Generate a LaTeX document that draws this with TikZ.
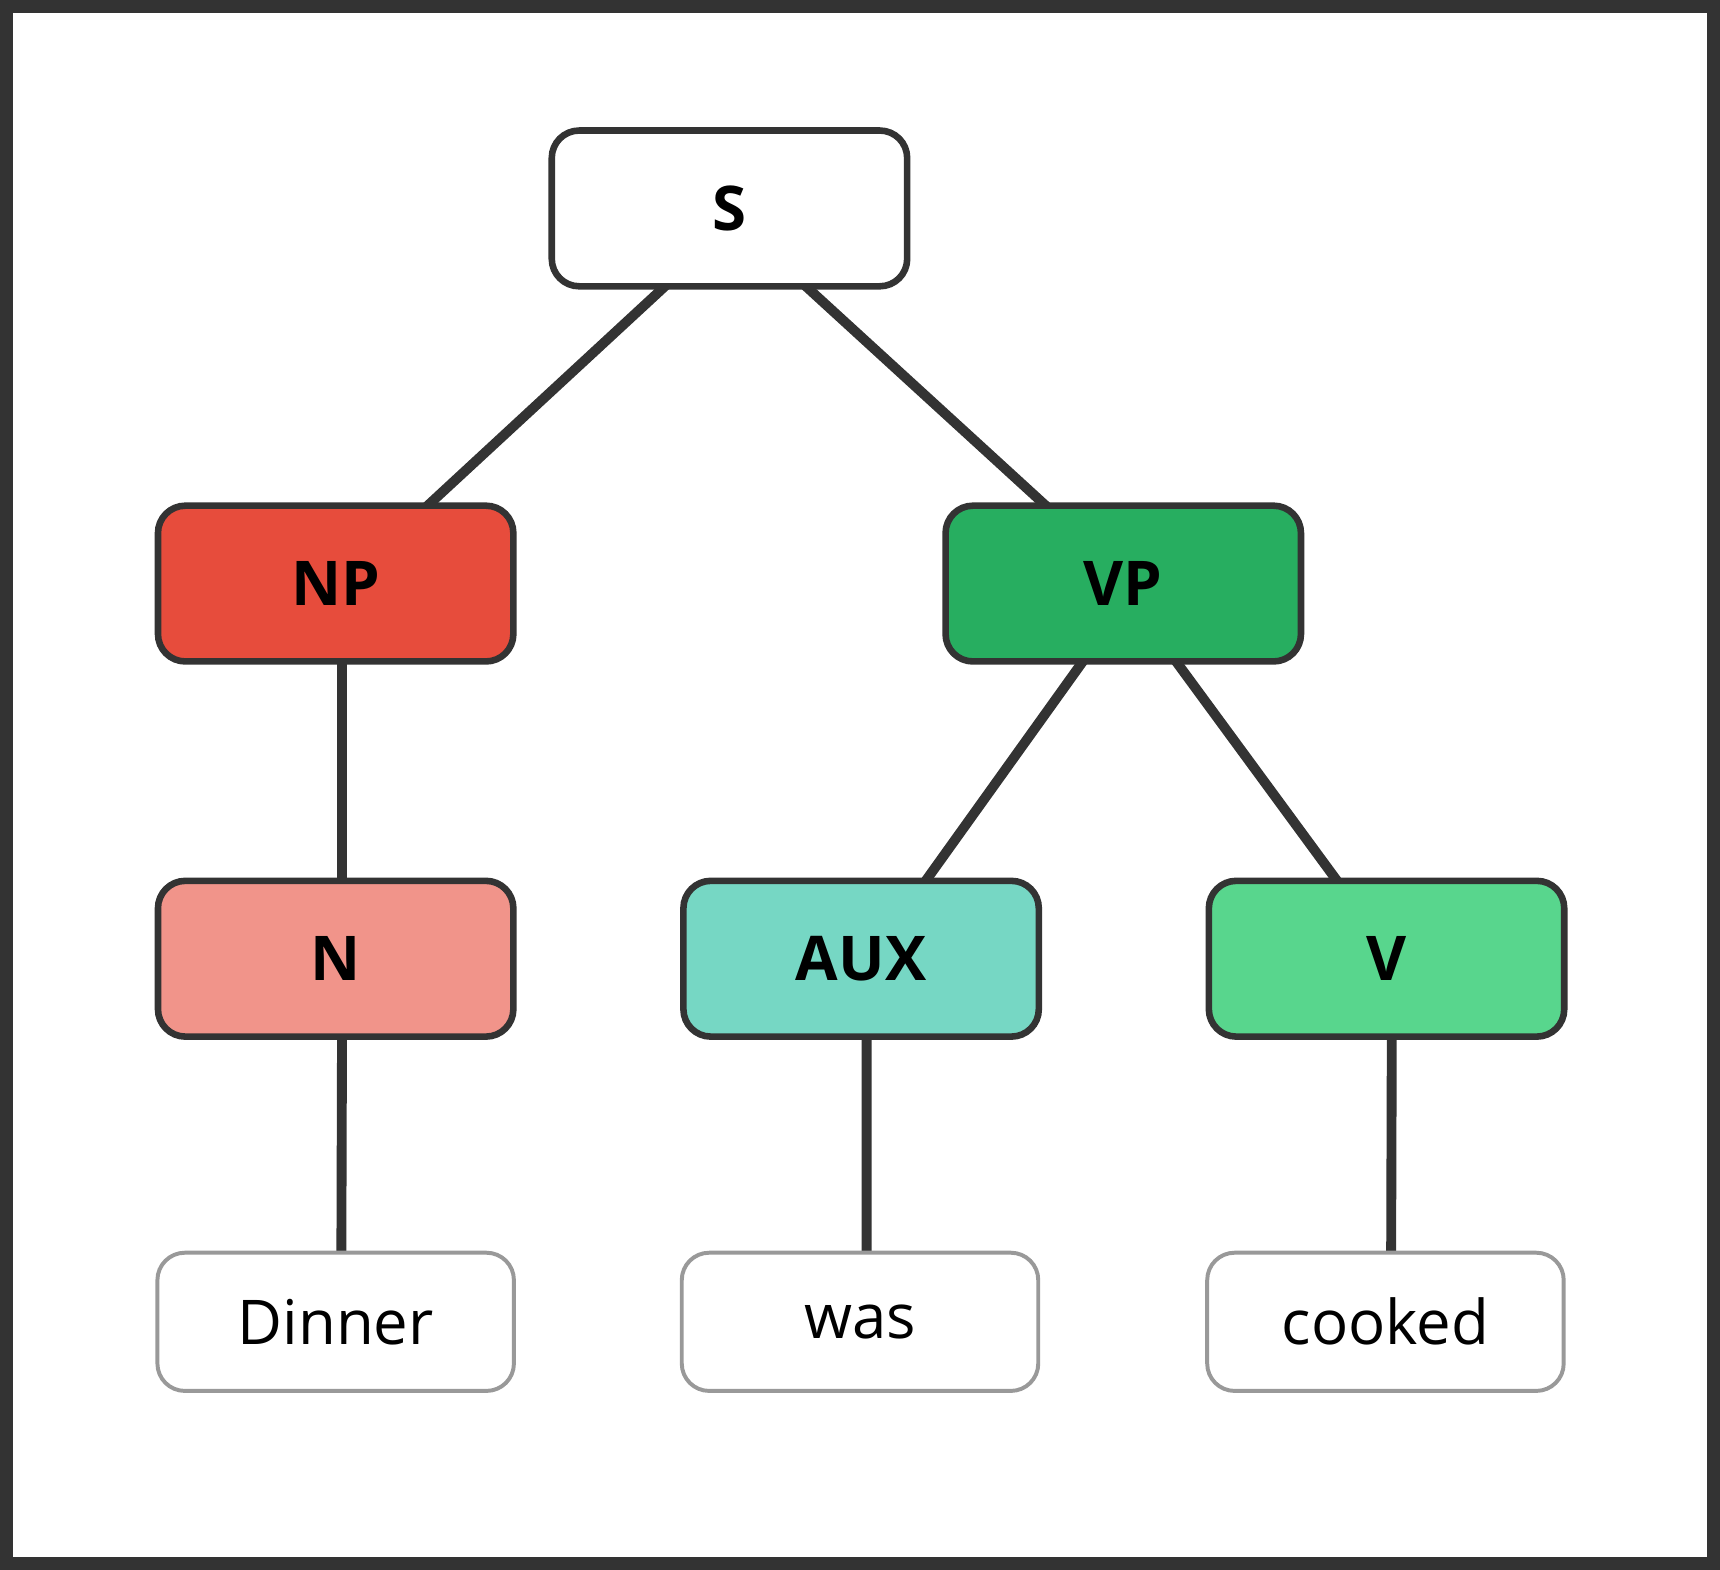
\documentclass[tikz,border=0pt]{standalone}
\usepackage{fontspec}
\setmainfont{Open Sans}
\usepackage{tikz}
\usetikzlibrary{backgrounds}
\definecolor{framegray}{RGB}{51,51,51}
\definecolor{leafgray}{RGB}{153,153,153}
\definecolor{npred}{RGB}{231,76,60}
\definecolor{nred}{RGB}{241,148,138}
\definecolor{vpgreen}{RGB}{39,174,96}
\definecolor{auxteal}{RGB}{118,215,196}
\definecolor{vgreen}{RGB}{88,214,141}

\begin{document}
\begin{tikzpicture}[
    phrase/.style={draw=framegray, line width=0.06cm, rounded corners=0.25cm,
        minimum width=3.24cm, minimum height=1.42cm, inner sep=0pt,
        font=\fontsize{16}{19}\selectfont\bfseries},
    leaf/.style={draw=leafgray, line width=0.036cm, rounded corners=0.25cm, fill=white,
        minimum width=3.25cm, minimum height=1.26cm, inner sep=0pt,
        font=\fontsize{16}{19}\selectfont},
    branch/.style={draw=framegray, line width=0.09cm}
]
    \useasboundingbox (0,0) rectangle (15.68,14.31);
    \draw[framegray, line width=0.12cm] (0.06,0.06) rectangle (15.62,14.25);

    % Phrase nodes
    \node[phrase, fill=white] (S) at (6.65,12.41) {S};
    \node[phrase, fill=npred] (NP) at (3.06,8.99) {NP};
    \node[phrase, fill=vpgreen] (VP) at (10.24,8.99) {VP};
    \node[phrase, fill=nred] (N) at (3.06,5.57) {N};
    \node[phrase, fill=auxteal] (AUX) at (7.85,5.57) {AUX};
    \node[phrase, fill=vgreen] (V) at (12.64,5.57) {V};

    % Words
    \node[leaf] (dinner) at (3.06,2.26) {Dinner};
    \node[leaf] (was) at (7.84,2.26) {was};
    \node[leaf] (cooked) at (12.63,2.26) {cooked};

    \begin{scope}[on background layer]
        \draw[branch] ([xshift=0.18cm]S.center) -- ([xshift=0.07cm]NP.center);
        \draw[branch] ([xshift=-0.08cm]S.center) -- ([xshift=0.07cm]VP.center);
        \draw[branch] ([xshift=0.06cm]NP.center) -- ([xshift=0.06cm]N.center);
        \draw[branch] ([xshift=0.14cm]VP.center) -- ([xshift=0.08cm]AUX.center);
        \draw[branch] ([xshift=-0.04cm]VP.center) -- ([xshift=0.07cm]V.center);
        \draw[branch] ([xshift=0.06cm]N.center) -- ([xshift=0.05cm]dinner.center);
        \draw[branch] ([xshift=0.05cm]AUX.center) -- ([xshift=0.06cm]was.center);
        \draw[branch] ([xshift=0.05cm]V.center) -- ([xshift=0.05cm]cooked.center);
    \end{scope}
\end{tikzpicture}
\end{document}
